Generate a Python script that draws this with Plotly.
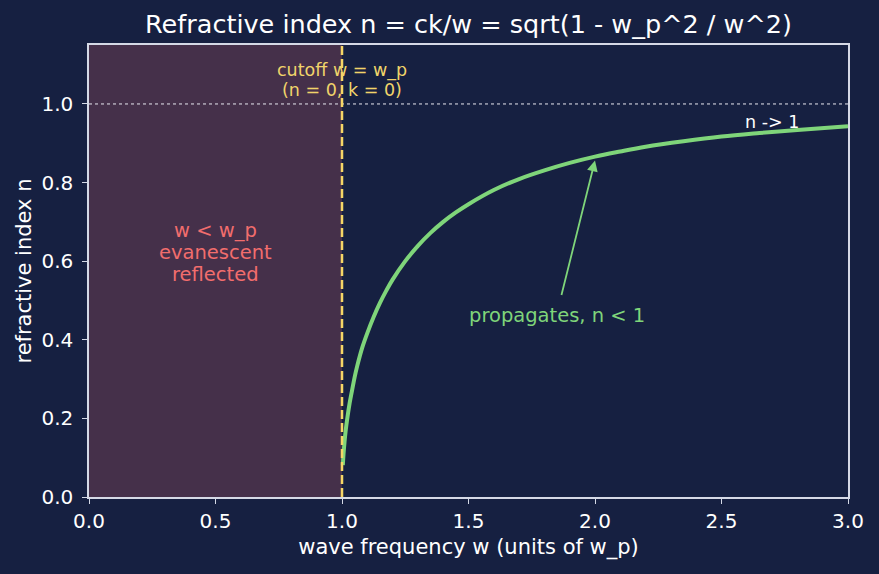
import plotly.graph_objects as go

# frequency (units of w_p) and refractive index
w_vals = [1.0033, 1.006, 1.01, 1.015, 1.02, 1.03, 1.04, 1.05, 1.06, 1.08, 1.10, 1.125, 1.15, 1.175,
          1.2, 1.25, 1.3, 1.35, 1.4, 1.45, 1.5, 1.6, 1.7, 1.8, 1.9, 2.0, 2.1, 2.2, 2.35, 2.5,
          2.65, 2.8, 3.0]
n_vals = [0.081, 0.109, 0.140, 0.171, 0.196, 0.238, 0.272, 0.305, 0.333, 0.380, 0.417, 0.458,
          0.494, 0.525, 0.553, 0.600, 0.639, 0.672, 0.700, 0.724, 0.745, 0.781, 0.809, 0.831,
          0.850, 0.866, 0.879, 0.891, 0.905, 0.917, 0.926, 0.934, 0.943]

x_ticks = [0.0, 0.5, 1.0, 1.5, 2.0, 2.5, 3.0]
x_labels = ["0.0", "0.5", "1.0", "1.5", "2.0", "2.5", "3.0"]
y_ticks = [0.0, 0.2, 0.4, 0.6, 0.8, 1.0]
y_labels = ["0.0", "0.2", "0.4", "0.6", "0.8", "1.0"]

cutoff_lines = ["cutoff w = w_p", "(n = 0, k = 0)"]
cutoff_y = [1.084, 1.0355]
evan_lines = ["w < w_p", "evanescent", "reflected"]
evan_y = [0.677, 0.621, 0.565]

BG = "#162041"
AX = "#d5d9e6"
FONT = "DejaVu Sans"
GREEN = "#7fd57a"

fig = go.Figure()
fig.add_shape(type="rect", x0=0, x1=1.0, y0=0, y1=1.15, xref="x", yref="y",
              fillcolor="#45304a", line_width=0, layer="below")
fig.add_shape(type="line", x0=0, x1=3, y0=1.0, y1=1.0, xref="x", yref="y",
              line=dict(color="#e8e8f0", width=1, dash="dot"))
fig.add_trace(go.Scatter(x=w_vals, y=n_vals, mode="lines", line_shape="spline",
                         line=dict(color=GREEN, width=4), showlegend=False))
fig.add_shape(type="line", x0=1.0, x1=1.0, y0=0, y1=1.15, xref="x", yref="y",
              line=dict(color="#f5d566", width=2.5, dash="9px,4px"))

for t, yy in zip(cutoff_lines, cutoff_y):
    fig.add_annotation(x=1.0, y=yy, text=t, showarrow=False,
                       font=dict(color="#f0d46a", size=17.5, family=FONT), xref="x", yref="y")
for t, yy in zip(evan_lines, evan_y):
    fig.add_annotation(x=0.5, y=yy, text=t, showarrow=False,
                       font=dict(color="#f26d6d", size=19.5, family=FONT), xref="x", yref="y")
fig.add_annotation(x=2.70, y=0.954, text="n -> 1", showarrow=False,
                   font=dict(color="#ffffff", size=17.5, family=FONT), xref="x", yref="y")
fig.add_annotation(x=1.85, y=0.463, text="propagates, n < 1", showarrow=False,
                   font=dict(color=GREEN, size=19.5, family=FONT), xref="x", yref="y")
fig.add_annotation(x=2.0, y=0.856, ax=1.866, ay=0.51, axref="x", ayref="y", xref="x", yref="y",
                   text="", showarrow=True, arrowhead=2, arrowsize=1.2, arrowwidth=1.8,
                   arrowcolor=GREEN)

fig.update_layout(
    width=879, height=574,
    paper_bgcolor=BG, plot_bgcolor=BG,
    margin=dict(l=89, r=31, t=45, b=77),
    title=dict(text="Refractive index n = ck/w = sqrt(1 - w_p^2 / w^2)", x=0.5, xref="paper",
               xanchor="center", y=1 - 24 / 574, yanchor="middle",
               font=dict(color="#ffffff", size=25.5, family=FONT)),
    font=dict(family=FONT, color="#ffffff"),
    xaxis=dict(range=[0, 3], tickvals=x_ticks, ticktext=x_labels, showgrid=False, zeroline=False,
               showline=True, mirror=True, linecolor=AX, linewidth=1.5, ticks="outside",
               ticklen=5, tickwidth=1.2, tickcolor=AX, tickfont=dict(size=20, color="#ffffff"),
               title=dict(text="wave frequency w (units of w_p)", font=dict(size=21, color="#ffffff"),
                          standoff=8)),
    yaxis=dict(range=[0, 1.15], tickvals=y_ticks, ticktext=y_labels, showgrid=False, zeroline=False,
               showline=True, mirror=True, linecolor=AX, linewidth=1.5, ticks="outside",
               ticklen=5, tickwidth=1.2, tickcolor=AX, tickfont=dict(size=20, color="#ffffff"),
               ticklabelstandoff=5,
               title=dict(text="refractive index n", font=dict(size=21, color="#ffffff"), standoff=4)),
)

fig.write_html("out.html")
